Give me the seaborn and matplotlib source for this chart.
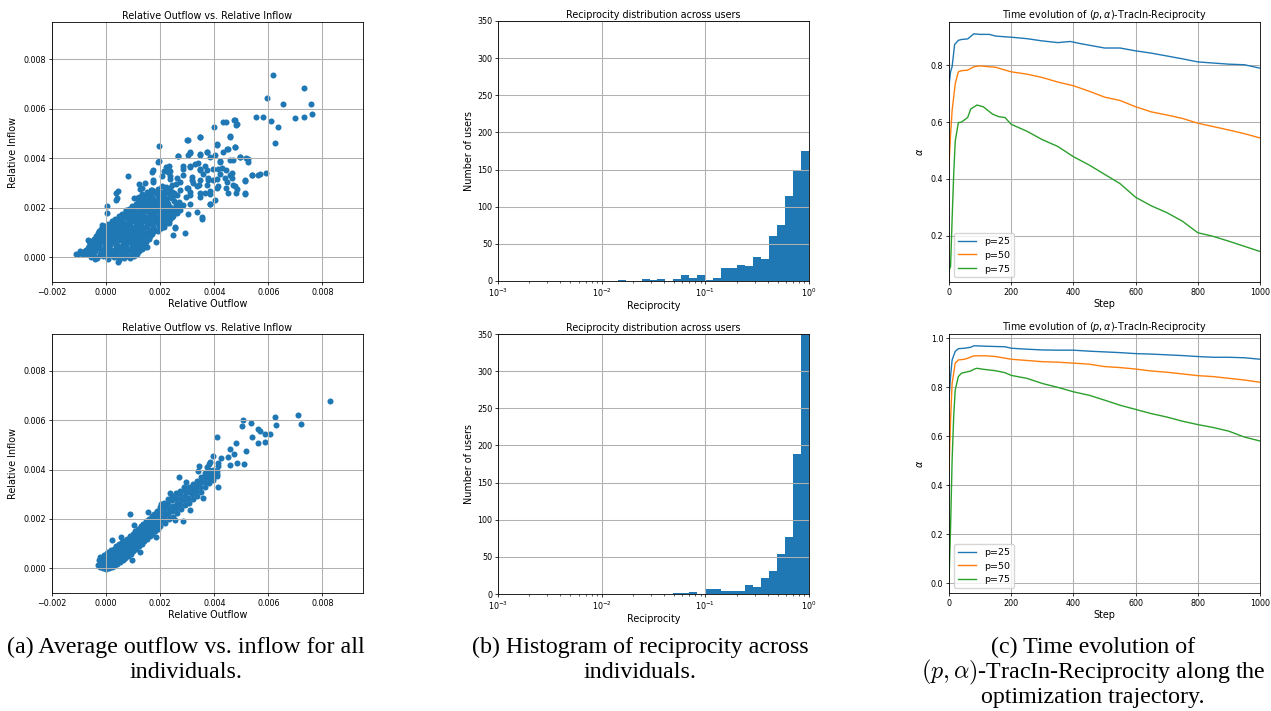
import numpy as np
import matplotlib
matplotlib.use("Agg")
import matplotlib.pyplot as plt
import seaborn as sns

# ---------------- data (scatter values in units of 1e-3) ----------------
top_outflow = [
    # sparse / outlying points
    6.16, 7.31, 5.96, 6.53, 7.57, 7.60, 5.56, 5.79, 6.11, 7.00, 7.31, 6.37, 6.26, 5.90, 5.69, 5.41, 5.14, 5.14, 5.25, 5.25,
    4.74, 4.85, 4.31, 4.42, 3.98, 3.48, 3.01, 1.94, 4.58, 4.77, 4.09, 4.46, 3.72, 3.47, 3.10, 2.67, 1.93, 4.95, 4.58, 4.21,
    3.84, 3.47, 3.10, 2.23, 2.30, 4.21, 4.58, 3.59, 3.96, 4.46, 4.83, 3.16, 2.73, 2.23, 1.68, 1.74, 0.80, 1.25, 0.38, 0.38,
    0.04, 0.04, 0.72, 3.84, 4.03, 3.84, 3.47, 3.10, 3.10, 3.04, 3.35, 3.53, 2.73, 2.42, 2.54, 2.91, 2.48, 1.86, 1.43, -0.67,
    -1.04, -0.85, -0.79, 0.44, 3.54, 2.56, 2.25, 1.51, 1.32, 0.89, 0.46, -0.41, -0.74, -0.62, -0.16, 3.85, 4.10, 3.67, 4.65, 4.70,
    2.05, 2.35, 2.60, 2.85, 3.20, 3.45, 2.95, 2.50, 2.15, 3.65, 3.30, 2.70, 2.40, 3.00, 2.60, 2.85, 3.75, 4.30, 1.45, 1.20,
    4.76, 4.82, 4.58, 3.47, 3.02, 4.09, 4.52, 4.76, 4.33, 3.74, 3.47, 3.10, 3.02, 2.67, 5.19, 4.94, 4.70, 4.21, 4.02, 1.94,
    2.31, 2.37, 2.86, 3.10, 3.41, 3.47, 3.72, 3.96, 4.15, 4.45, 4.64, 5.41, 5.62, 1.75, 2.37, 2.61, 2.86, 3.17, 3.47, 3.78,
    4.09, 4.39, 1.75, 1.33, 1.69, 2.06, 2.43, 2.74, 3.04, 3.35, 3.72, 4.15, 4.45, 4.76, 5.13, 5.13, 0.43, 0.41, 1.14, 1.63,
    2.12, 2.61, 3.10, 3.47, 3.84, 4.52, 4.82,
    # dense cluster
    -0.55, -0.32, -0.12, 0.07, 0.28, 0.47, 0.66, 0.84, 1.02,
    -0.45, -0.22, -0.02, 0.18, 0.38, 0.57, 0.76, 0.94,
    -1.12, -0.93, -0.71, -0.47, -0.24, -0.04, 0.17, 0.36, 0.57, 0.74, 0.96, 1.13,
    -0.95, -0.78, -0.60, -0.40, -0.19, 0.02, 0.22, 0.42, 0.62, 0.82, 1.02, 1.20,
    -0.68, -0.51, -0.29, -0.08, 0.12, 0.31, 0.52, 0.69, 0.91, 1.09, 1.28,
    -0.64, -0.45, -0.25, -0.05, 0.16, 0.36, 0.57, 0.75, 0.96, 1.15, 1.34,
    -0.59, -0.38, -0.21, 0.02, 0.19, 0.42, 0.61, 0.78, 1.01, 1.18, 1.41,
    -0.52, -0.32, -0.12, 0.08, 0.28, 0.49, 0.68, 0.88, 1.08, 1.28, 1.48,
    -0.44, -0.26, -0.03, 0.16, 0.34, 0.56, 0.73, 0.97, 1.14, 1.36, 1.57,
    -0.38, -0.18, 0.03, 0.22, 0.43, 0.62, 0.83, 1.03, 1.22, 1.43, 1.63,
    -0.31, -0.12, 0.09, 0.28, 0.51, 0.68, 0.92, 1.09, 1.31, 1.52, 1.71,
    -0.25, -0.04, 0.16, 0.37, 0.57, 0.76, 0.97, 1.17, 1.36, 1.57, 1.77, 1.93,
    -0.18, 0.03, 0.21, 0.39, 0.62, 0.79, 1.02, 1.19, 1.42, 1.61, 1.79, 2.02,
    -0.08, 0.14, 0.33, 0.53, 0.74, 0.93, 1.14, 1.33, 1.53, 1.73, 1.94, 2.14,
    0.08, 0.29, 0.48, 0.71, 0.88, 1.12, 1.29, 1.51, 1.68, 1.91, 2.09, 2.31,
    0.22, 0.42, 0.63, 0.83, 1.03, 1.23, 1.43, 1.63, 1.83, 2.03, 2.23,
    0.33, 0.54, 0.76, 0.93, 1.16, 1.34, 1.57, 1.74, 1.96, 2.14, 2.36,
    0.46, 0.66, 0.87, 1.06, 1.27, 1.46, 1.66, 1.86, 2.06, 2.27, 2.48,
    0.58, 0.81, 0.99, 1.21, 1.38, 1.62, 1.79, 2.01, 2.19, 2.42, 2.61,
    0.72, 0.92, 1.12, 1.32, 1.52, 1.72, 1.92, 2.12, 2.32, 2.53,
    0.86, 1.04, 1.27, 1.44, 1.66, 1.84, 2.07, 2.24, 2.48, 2.66,
    0.97, 1.17, 1.37, 1.57, 1.77, 1.97, 2.17, 2.38, 2.60,
    1.09, 1.31, 1.49, 1.72, 1.89, 2.11, 2.28, 2.57, 2.76,
    1.18, 1.41, 1.62, 1.84, 2.05, 2.26, 2.50,
    1.02, 1.28, 1.54, 1.78, 1.99, 2.21, 2.44,
    1.20, 1.45, 1.70, 1.93, 2.15, 2.38,
    1.34, 1.61, 1.86, 2.04, 2.29, 2.52,
    1.50, 1.75, 2.00, 2.20, 2.42,
    1.66, 1.92, 2.17, 2.38,
]
top_inflow = [
    # sparse / outlying points
    7.34, 6.84, 6.42, 6.20, 6.20, 5.78, 5.65, 5.65, 5.51, 5.62, 5.65, 5.24, 4.62, 3.39, 3.35, 3.31, 3.09, 2.57, 3.96, 3.85,
    5.54, 5.38, 5.47, 5.45, 5.24, 4.85, 4.73, 4.51, 4.88, 4.46, 4.53, 4.36, 4.23, 4.12, 4.19, 4.08, 3.85, 4.05, 3.92, 3.85,
    4.05, 3.58, 3.65, 3.65, 3.45, 3.38, 3.31, 3.38, 3.11, 3.04, 2.77, 3.24, 3.04, 2.84, 3.45, 3.04, 3.27, 2.77, 2.59, 2.32,
    2.07, 1.80, 1.89, 2.57, 2.30, 2.16, 2.43, 2.64, 2.16, 1.76, 1.82, 1.55, 1.89, 1.62, 1.18, 0.99, 0.88, 0.61, 0.41, 0.68,
    0.14, 0.14, 0.27, -0.20, 1.64, 1.23, 1.37, 0.43, 0.32, -0.04, -0.13, -0.08, 0.30, 0.67, 1.30, 2.17, 2.78, 2.58, 3.18, 2.90,
    3.30, 3.15, 2.95, 3.55, 3.00, 2.90, 2.45, 2.60, 3.50, 3.70, 3.75, 2.25, 1.95, 2.80, 1.85, 2.10, 3.20, 3.60, 3.00, 2.95,
    5.53, 5.36, 4.87, 4.87, 4.73, 4.56, 4.36, 4.47, 4.27, 4.27, 4.17, 4.27, 4.13, 4.09, 4.00, 4.04, 3.93, 3.87, 4.13, 3.87,
    3.69, 3.47, 3.69, 3.67, 3.80, 3.53, 3.53, 3.56, 3.56, 3.53, 3.40, 3.33, 3.33, 3.51, 3.27, 3.20, 3.33, 3.13, 3.13, 3.13,
    3.16, 3.20, 3.13, 2.80, 2.73, 2.87, 2.93, 2.73, 2.80, 2.87, 2.93, 2.87, 2.80, 2.87, 3.13, 2.60, 2.67, 2.40, 2.40, 2.53,
    2.60, 2.53, 2.53, 2.60, 2.67, 2.60, 2.60,
    # dense cluster
    0.02, -0.03, 0.05, -0.06, 0.01, 0.04, -0.02, 0.03, 0.06,
    0.07, 0.09, 0.05, 0.08, 0.06, 0.09, 0.07, 0.05,
    0.13, 0.17, 0.12, 0.19, 0.14, 0.21, 0.16, 0.12, 0.18, 0.15, 0.20, 0.14,
    0.26, 0.24, 0.27, 0.25, 0.28, 0.24, 0.26, 0.27, 0.25, 0.28, 0.24, 0.26,
    0.37, 0.33, 0.39, 0.34, 0.36, 0.31, 0.38, 0.35, 0.33, 0.40, 0.36,
    0.46, 0.44, 0.47, 0.45, 0.48, 0.46, 0.44, 0.47, 0.45, 0.46, 0.48,
    0.56, 0.52, 0.58, 0.54, 0.57, 0.51, 0.55, 0.59, 0.53, 0.56, 0.58,
    0.65, 0.67, 0.64, 0.66, 0.65, 0.68, 0.64, 0.66, 0.67, 0.65, 0.63,
    0.74, 0.78, 0.72, 0.76, 0.79, 0.73, 0.77, 0.75, 0.71, 0.78, 0.74,
    0.85, 0.86, 0.84, 0.87, 0.85, 0.83, 0.86, 0.84, 0.87, 0.85, 0.86,
    0.96, 0.93, 0.97, 0.92, 0.98, 0.94, 0.96, 0.99, 0.93, 0.97, 0.95,
    1.05, 1.06, 1.04, 1.07, 1.05, 1.03, 1.06, 1.04, 1.07, 1.05, 1.06, 1.04,
    1.14, 1.17, 1.12, 1.18, 1.13, 1.16, 1.19, 1.14, 1.17, 1.12, 1.16, 1.19,
    1.25, 1.26, 1.24, 1.27, 1.25, 1.23, 1.26, 1.24, 1.27, 1.25, 1.26, 1.24,
    1.36, 1.33, 1.38, 1.34, 1.37, 1.32, 1.39, 1.35, 1.33, 1.38, 1.34, 1.40,
    1.45, 1.46, 1.44, 1.47, 1.45, 1.43, 1.46, 1.44, 1.47, 1.45, 1.46,
    1.56, 1.53, 1.58, 1.54, 1.57, 1.52, 1.56, 1.59, 1.53, 1.57, 1.55,
    1.65, 1.66, 1.64, 1.67, 1.65, 1.63, 1.66, 1.64, 1.67, 1.65, 1.66,
    1.74, 1.78, 1.73, 1.77, 1.72, 1.76, 1.79, 1.74, 1.77, 1.73, 1.78,
    1.85, 1.86, 1.84, 1.87, 1.85, 1.83, 1.86, 1.84, 1.87, 1.85,
    1.96, 1.93, 1.97, 1.94, 1.98, 1.93, 1.96, 1.99, 1.94, 1.97,
    2.05, 2.06, 2.04, 2.07, 2.05, 2.03, 2.06, 2.04, 2.07,
    2.14, 2.17, 2.13, 2.16, 2.19, 2.14, 2.17, 2.12, 2.09,
    2.25, 2.26, 2.24, 2.27, 2.25, 2.23, 2.26,
    2.38, 2.34, 2.37, 2.33, 2.38, 2.35, 2.39,
    2.45, 2.46, 2.44, 2.47, 2.45, 2.43,
    2.57, 2.54, 2.58, 2.55, 2.59, 2.52,
    2.65, 2.66, 2.64, 2.67, 2.65,
    2.71, 2.77, 2.73, 2.79,
]

bottom_outflow = [
    # sparse / outlying points
    8.28, 7.09, 7.20, 6.26, 6.28, 5.07, 5.04, 5.36, 5.38, 5.63, 5.69, 5.88, 6.07, 5.62, 5.89, 5.17, 5.11, 4.11, 4.81, 4.60,
    4.74, 4.85, 3.96, 4.25, 4.49, 4.58, 3.44, 4.15, 3.80, 4.09, 4.15, 3.72, 2.69, 0.88, 0.23, 2.83, 1.83, 2.23, 2.02,
    0.55, 1.05, 1.55, 2.35, 2.95, 3.40, 3.85, 1.25, 0.95, 2.55, 3.10, 3.60,
    # dense band
    -0.31, -0.28, -0.21, -0.19, -0.22, -0.12, -0.09, -0.11, -0.08,
    0.01, -0.02, 0.02, 0.00, 0.03, 0.11, 0.09, 0.12, 0.10, 0.08,
    0.21, 0.19, 0.22, 0.20, 0.18, 0.31, 0.29, 0.32, 0.30, 0.28,
    0.41, 0.39, 0.42, 0.40, 0.38, 0.51, 0.49, 0.52, 0.50, 0.48,
    0.61, 0.59, 0.62, 0.60, 0.58, 0.71, 0.69, 0.72, 0.70, 0.68,
    0.81, 0.79, 0.82, 0.80, 0.78, 0.91, 0.89, 0.92, 0.90, 0.88,
    1.01, 0.99, 1.02, 1.00, 0.98, 1.11, 1.09, 1.12, 1.10, 1.08,
    1.21, 1.19, 1.22, 1.20, 1.18, 1.31, 1.29, 1.32, 1.30, 1.28,
    1.41, 1.39, 1.42, 1.40, 1.38, 1.51, 1.49, 1.52, 1.50, 1.48,
    1.61, 1.59, 1.62, 1.60, 1.58, 1.71, 1.69, 1.72, 1.70, 1.68,
    1.81, 1.79, 1.82, 1.80, 1.78, 1.91, 1.89, 1.92, 1.90, 1.88,
    2.01, 1.99, 2.02, 2.00, 1.98, 2.16, 2.14, 2.17, 2.15, 2.13,
    2.31, 2.29, 2.32, 2.30, 2.28, 2.46, 2.44, 2.47, 2.45, 2.43,
    2.61, 2.59, 2.62, 2.60, 2.58, 2.76, 2.74, 2.77, 2.75, 2.73,
    2.91, 2.89, 2.92, 2.90, 2.88, 3.06, 3.04, 3.07, 3.05,
    3.21, 3.19, 3.22, 3.20, 3.36, 3.34, 3.37, 3.35,
    3.51, 3.49, 3.52, 3.50, 3.66, 3.64, 3.67, 3.65,
    3.81, 3.79, 3.82, 3.80, 3.96, 3.94, 3.97, 4.11, 4.09, 4.12,
]
bottom_inflow = [
    # sparse / outlying points
    6.77, 6.20, 5.84, 6.14, 5.82, 6.03, 5.77, 5.89, 5.34, 5.66, 5.57, 5.46, 5.43, 5.09, 5.12, 4.77, 4.24, 5.31, 5.09, 4.82,
    4.62, 4.28, 4.57, 4.46, 4.51, 4.18, 4.15, 4.28, 4.24, 3.84, 3.30, 4.11, 3.70, 2.20, 1.15, 1.93, 1.27, 2.53, 2.62,
    1.25, 1.75, 2.30, 3.05, 3.50, 3.95, 4.30, 0.65, 0.35, 1.95, 2.35, 2.85,
    # dense band
    0.12, 0.32, 0.05, 0.25, 0.45, 0.02, 0.20, 0.40, 0.55,
    -0.02, 0.15, 0.33, 0.50, 0.62, 0.00, 0.18, 0.36, 0.54, 0.68,
    0.05, 0.22, 0.40, 0.58, 0.75, 0.10, 0.28, 0.46, 0.64, 0.80,
    0.18, 0.36, 0.54, 0.72, 0.90, 0.26, 0.44, 0.62, 0.80, 0.98,
    0.34, 0.52, 0.70, 0.88, 1.05, 0.42, 0.60, 0.78, 0.96, 1.12,
    0.50, 0.68, 0.86, 1.04, 1.20, 0.60, 0.78, 0.96, 1.14, 1.30,
    0.70, 0.88, 1.06, 1.24, 1.40, 0.80, 0.98, 1.16, 1.34, 1.50,
    0.90, 1.08, 1.26, 1.44, 1.60, 1.00, 1.18, 1.36, 1.54, 1.70,
    1.10, 1.28, 1.46, 1.64, 1.80, 1.20, 1.38, 1.56, 1.74, 1.92,
    1.30, 1.48, 1.66, 1.84, 2.02, 1.40, 1.58, 1.76, 1.94, 2.12,
    1.50, 1.68, 1.86, 2.04, 2.22, 1.60, 1.78, 1.96, 2.14, 2.32,
    1.70, 1.90, 2.10, 2.30, 2.50, 1.85, 2.05, 2.25, 2.45, 2.65,
    2.00, 2.20, 2.40, 2.60, 2.80, 2.10, 2.32, 2.54, 2.76, 2.95,
    2.25, 2.45, 2.65, 2.85, 3.05, 2.40, 2.60, 2.80, 3.00, 3.15,
    2.55, 2.75, 2.95, 3.15, 3.30, 2.65, 2.87, 3.08, 3.28,
    2.80, 3.00, 3.22, 3.42, 2.95, 3.15, 3.35, 3.55,
    3.10, 3.30, 3.50, 3.70, 3.30, 3.50, 3.70, 3.85,
    3.45, 3.65, 3.85, 4.00, 3.60, 3.80, 4.00, 3.75, 3.95, 4.15,
]

# histogram counts per log-spaced bin (39 bins from 1e-3 to 1)
top_counts = [0, 0, 0, 0, 0, 0, 0, 0, 0, 0, 0, 0, 0, 0, 0,
              2, 0, 0, 3, 2, 3, 0, 3, 8, 4, 8, 1, 4, 18, 17,
              21, 20, 32, 29, 60, 75, 115, 148, 175]
bottom_counts = [0, 0, 0, 0, 0, 0, 0, 0, 0, 0, 0, 0, 0, 0, 0,
                 0, 0, 0, 0, 0, 0, 0, 2, 2, 3, 0, 7, 7, 4, 4,
                 4, 12, 10, 22, 31, 54, 77, 189, 390]

# time evolution curves
top_steps_25 = [0, 5, 10, 18, 30, 40, 60, 80, 100, 130, 150, 200, 250, 300, 350, 390, 420, 500, 550, 600, 650, 700, 750, 800, 850, 900, 950, 1000]
top_alpha_25 = [0.729, 0.777, 0.795, 0.873, 0.888, 0.891, 0.893, 0.911, 0.909, 0.909, 0.903, 0.899, 0.894, 0.886, 0.880, 0.884, 0.877, 0.861, 0.861, 0.851, 0.843, 0.833, 0.823, 0.812, 0.808, 0.804, 0.802, 0.790]
top_steps_50 = [0, 5, 10, 20, 30, 40, 60, 80, 100, 130, 150, 200, 250, 300, 350, 400, 450, 500, 550, 600, 650, 700, 750, 800, 850, 900, 950, 1000]
top_alpha_50 = [0.449, 0.556, 0.640, 0.735, 0.777, 0.781, 0.783, 0.795, 0.798, 0.795, 0.793, 0.777, 0.769, 0.757, 0.741, 0.728, 0.709, 0.688, 0.676, 0.654, 0.636, 0.625, 0.613, 0.596, 0.584, 0.572, 0.559, 0.544]
top_steps_75 = [0, 5, 10, 15, 20, 30, 40, 60, 70, 90, 110, 140, 160, 180, 200, 250, 300, 350, 400, 450, 500, 550, 600, 650, 700, 750, 800, 850, 900, 950, 1000]
top_alpha_75 = [0.078, 0.090, 0.257, 0.413, 0.532, 0.598, 0.600, 0.616, 0.646, 0.660, 0.654, 0.628, 0.619, 0.616, 0.592, 0.568, 0.538, 0.514, 0.478, 0.449, 0.416, 0.383, 0.335, 0.305, 0.281, 0.251, 0.210, 0.197, 0.180, 0.162, 0.144]

bot_steps_25 = [0, 5, 10, 20, 30, 50, 70, 80, 120, 180, 200, 250, 300, 350, 400, 450, 500, 550, 600, 650, 700, 750, 800, 850, 900, 950, 1000]
bot_alpha_25 = [0.751, 0.844, 0.912, 0.947, 0.958, 0.960, 0.964, 0.970, 0.968, 0.966, 0.960, 0.956, 0.953, 0.952, 0.952, 0.948, 0.945, 0.942, 0.938, 0.936, 0.933, 0.930, 0.926, 0.923, 0.923, 0.921, 0.915]
bot_steps_50 = [0, 5, 10, 20, 30, 50, 60, 80, 120, 150, 200, 250, 300, 350, 400, 450, 500, 550, 600, 650, 700, 750, 800, 850, 900, 950, 1000]
bot_alpha_50 = [0.460, 0.666, 0.816, 0.899, 0.912, 0.915, 0.919, 0.929, 0.929, 0.926, 0.915, 0.910, 0.905, 0.903, 0.899, 0.895, 0.885, 0.881, 0.875, 0.867, 0.862, 0.855, 0.848, 0.844, 0.837, 0.830, 0.821]
bot_steps_75 = [0, 5, 10, 15, 20, 30, 40, 60, 70, 80, 90, 110, 150, 180, 200, 250, 300, 350, 400, 450, 500, 550, 600, 650, 700, 750, 800, 850, 900, 950, 1000]
bot_alpha_75 = [0.008, 0.227, 0.501, 0.679, 0.789, 0.844, 0.858, 0.864, 0.867, 0.874, 0.878, 0.874, 0.868, 0.860, 0.849, 0.837, 0.816, 0.800, 0.782, 0.768, 0.748, 0.727, 0.710, 0.693, 0.679, 0.662, 0.648, 0.636, 0.621, 0.597, 0.581]

series_labels = ["p=25", "p=50", "p=75"]

scatter_title = "Relative Outflow vs. Relative Inflow"
hist_title = "Reciprocity distribution across users"
line_title = r"Time evolution of $(p, \alpha)$-TracIn-Reciprocity"

captions = {
    "a": ["(a) Average outflow vs. inflow for all", "individuals."],
    "b": ["(b) Histogram of reciprocity across", "individuals."],
    "c": ["(c) Time evolution of", r"$(p, \alpha)$-TracIn-Reciprocity along the", "optimization trajectory."],
}

# ---------------- style ----------------
plt.rcParams.update({
    "font.family": ["DejaVu Sans"],
    "axes.linewidth": 0.6,
    "xtick.major.size": 2.4, "ytick.major.size": 2.4,
    "xtick.major.width": 0.55, "ytick.major.width": 0.55,
    "xtick.minor.size": 1.4, "ytick.minor.size": 1.4,
    "xtick.minor.width": 0.45, "ytick.minor.width": 0.45,
    "xtick.major.pad": 1.6, "ytick.major.pad": 1.6,
    "xtick.minor.pad": 1.6, "ytick.minor.pad": 1.6,
    "xtick.labelsize": 5.8, "ytick.labelsize": 5.8,
    "axes.labelsize": 6.9, "axes.titlesize": 6.9,
    "axes.titlepad": 2.5, "axes.labelpad": 1.8,
    "grid.color": "#b0b0b0", "grid.linewidth": 0.75,
    "legend.fontsize": 6.8,
})

W, H = 1271, 711
fig = plt.figure(figsize=(W / 100, H / 100), dpi=100)


def add_ax(x0, y0, x1, y1):
    return fig.add_axes([x0 / W, 1 - y1 / H, (x1 - x0) / W, (y1 - y0) / H])


ax_a1 = add_ax(52, 22, 363, 282)
ax_a2 = add_ax(52, 334, 363, 593)
ax_b1 = add_ax(498, 21, 809, 281)
ax_b2 = add_ax(498, 334, 809, 594)
ax_c1 = add_ax(949, 22, 1260, 282)
ax_c2 = add_ax(949, 334, 1260, 593)

BLUE = "#1f77b4"

# ---- scatter panels ----
for ax, xs, ys in [(ax_a1, top_outflow, top_inflow), (ax_a2, bottom_outflow, bottom_inflow)]:
    sns.scatterplot(x=np.asarray(xs) * 1e-3, y=np.asarray(ys) * 1e-3, s=19,
                    color=BLUE, linewidth=0, ax=ax)
    ax.set_xlim(-0.002, 0.0095)
    ax.set_ylim(-0.001, 0.0095)
    ax.set_xticks([-0.002, 0.0, 0.002, 0.004, 0.006, 0.008])
    ax.set_yticks([0.0, 0.002, 0.004, 0.006, 0.008])
    ax.set_xticklabels(["\u22120.002", "0.000", "0.002", "0.004", "0.006", "0.008"])
    ax.set_yticklabels(["0.000", "0.002", "0.004", "0.006", "0.008"])
    ax.grid(True)
    ax.set_title(scatter_title)
    ax.set_xlabel("Relative Outflow", labelpad=1.5)
    ax.set_ylabel("Relative Inflow", labelpad=4)

# ---- histogram panels ----
nbins = len(top_counts)
bin_centers = 10 ** (-3 + (np.arange(nbins) + 0.5) * 3 / nbins)
for ax, counts in [(ax_b1, top_counts), (ax_b2, bottom_counts)]:
    sns.histplot(x=bin_centers, weights=counts, bins=nbins, binrange=(-3, 0),
                 log_scale=True, color=BLUE, alpha=1, linewidth=0, ax=ax)
    ax.set_xlim(1e-3, 1)
    ax.set_ylim(0, 350)
    ax.set_yticks(range(0, 351, 50))
    ax.grid(True)
    ax.set_title(hist_title)
    ax.set_xlabel("Reciprocity", labelpad=1.5)
    ax.set_ylabel("Number of users", labelpad=2)

# ---- time evolution panels ----
palette = ["#1f77b4", "#ff7f0e", "#2ca02c"]
for ax, curves in [
    (ax_c1, [(top_steps_25, top_alpha_25), (top_steps_50, top_alpha_50), (top_steps_75, top_alpha_75)]),
    (ax_c2, [(bot_steps_25, bot_alpha_25), (bot_steps_50, bot_alpha_50), (bot_steps_75, bot_alpha_75)]),
]:
    for (st, al), lab, col in zip(curves, series_labels, palette):
        sns.lineplot(x=st, y=al, ax=ax, color=col, linewidth=1.0, label=lab)
    ax.set_xlim(0, 1000)
    ax.set_xticks(range(0, 1001, 200))
    ax.grid(True)
    ax.set_title(line_title)
    ax.set_xlabel("Step", labelpad=1.5)
    ax.set_ylabel(r"$\alpha$", labelpad=4)
    ax.legend(loc="lower left")

# ---- captions ----
cap_pos = {"a": 186, "b": 640, "c": 1093}
line_y = [647, 672, 697]
for key, lines in captions.items():
    for i, txt in enumerate(lines):
        fig.text(cap_pos[key] / W, 1 - line_y[i] / H, txt, ha="center", va="center",
                 fontsize=17.3, family=["Liberation Serif", "DejaVu Serif"],
                 math_fontfamily="cm")

fig.savefig("out.png", dpi=100)
